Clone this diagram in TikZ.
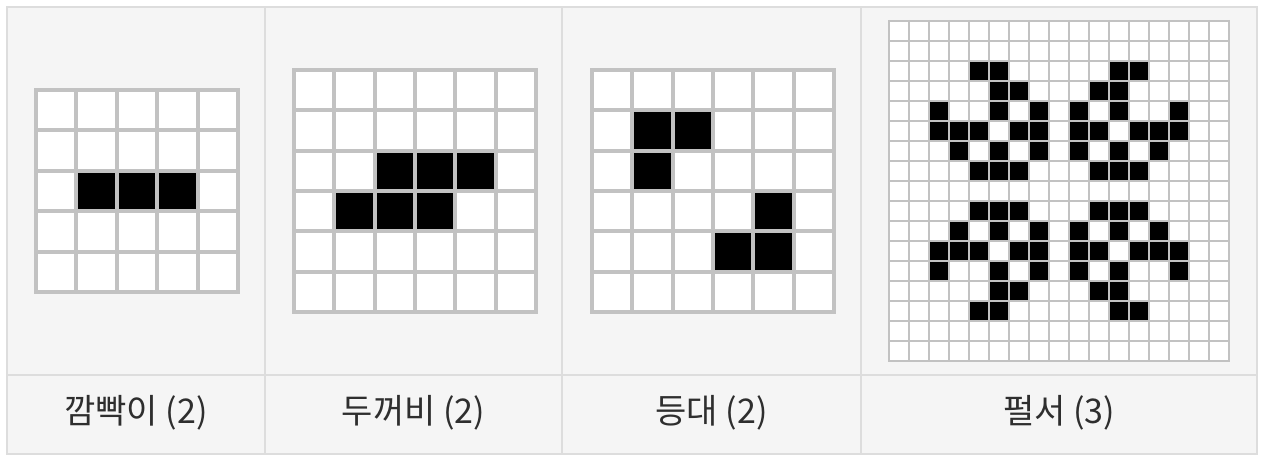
\documentclass[tikz,border=0pt]{standalone}
\usepackage{fontspec}
\setmainfont{Noto Sans CJK KR}
\definecolor{gridgray}{HTML}{C2C2C2}
\definecolor{tablebg}{HTML}{F5F5F5}
\definecolor{tableline}{HTML}{DDDDDD}
\definecolor{labeltext}{HTML}{2E2E2E}
% one board of n x n cells, drawn from the scope origin
\newcommand{\lifegrid}[1]{%
  \fill[white] (0,0) rectangle (#1*\cellpitch+\cellgap,#1*\cellpitch+\cellgap);
  \foreach \k in {0,...,#1}
    \draw[gridgray,line width=\cellgap pt] (\k*\cellpitch+\cellgap/2,0) -- ++(0,#1*\cellpitch+\cellgap)
      (0,\k*\cellpitch+\cellgap/2) -- ++(#1*\cellpitch+\cellgap,0);}
\newcommand{\alive}[2]{%
  \fill ({(#2)*\cellpitch+\cellgap},{(#1)*\cellpitch+\cellgap}) rectangle ++(\cellpitch-\cellgap,\cellpitch-\cellgap);}
\begin{document}
\begin{tikzpicture}[x=1pt,y=-1pt,
    tablerule/.style={draw=tableline,line width=1.6pt},
    patname/.style={text=labeltext,font=\fontsize{34}{40}\selectfont,inner sep=0pt}]
  \useasboundingbox (0,0) rectangle (1268,460);
  % table
  \fill[tablebg] (7,7) rectangle (1257,454);
  \draw[tablerule] (7,7) rectangle (1257,454);
  \draw[tablerule] (265,7) -- (265,454) (562,7) -- (562,454) (861,7) -- (861,454);
  \draw[tablerule] (7,375) -- (1257,375);
  % blinker
  \begin{scope}[shift={(34,88)}]
    \def\cellpitch{40.4}\def\cellgap{4}
    \lifegrid{5}
    \foreach \c in {1,2,3} {\alive{2}{\c}}
  \end{scope}
  % toad
  \begin{scope}[shift={(292,68)}]
    \def\cellpitch{40.3}\def\cellgap{4}
    \lifegrid{6}
    \foreach \r/\c in {2/2,2/3,2/4,3/1,3/2,3/3} {\alive{\r}{\c}}
  \end{scope}
  % beacon
  \begin{scope}[shift={(590,68)}]
    \def\cellpitch{40.3}\def\cellgap{4}
    \lifegrid{6}
    \foreach \r/\c in {1/1,1/2,2/1,3/4,4/3,4/4} {\alive{\r}{\c}}
  \end{scope}
  % pulsar, upper half mirrored to the lower half
  \begin{scope}[shift={(888,20)}]
    \def\cellpitch{20}\def\cellgap{2}
    \lifegrid{17}
    \foreach \r/\cols in {2/{4,5,11,12},3/{5,6,10,11},4/{2,5,7,9,11,14},
        5/{2,3,4,6,7,9,10,12,13,14},6/{3,5,7,9,11,13},7/{4,5,6,10,11,12}}
      \foreach \c in \cols {\alive{\r}{\c} \alive{16-\r}{\c}}
  \end{scope}
  % names
  \node[patname] (blinker) at (136,413) {깜빡이 (2)};
  \node[patname] (toad) at (413.5,413) {두꺼비 (2)};
  \node[patname] (beacon) at (711.5,413) {등대 (2)};
  \node[patname] (pulsar) at (1059,413) {펄서 (3)};
\end{tikzpicture}
\end{document}
